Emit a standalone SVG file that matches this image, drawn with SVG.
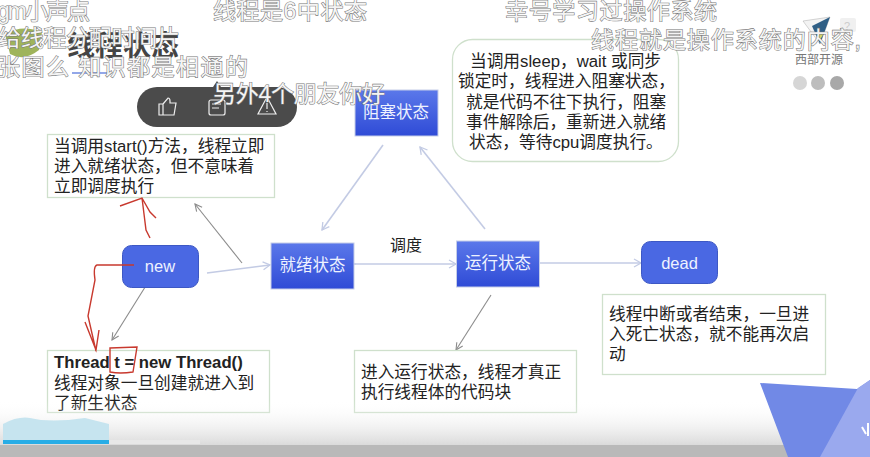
<svg xmlns="http://www.w3.org/2000/svg" width="870" height="457" viewBox="0 0 870 457">
<style>
text{font-family:"Liberation Sans","Noto Sans CJK SC",sans-serif}
.note{fill:#fff;stroke:#cfe0cc;stroke-width:1.3}
.nt{font-size:16.7px;fill:#222}
.st{fill:url(#g);stroke:#c5cde8;stroke-width:1}
.rd{fill:#4a68e3;stroke:#3d58c4;stroke-width:1}
.nl{font-size:16.5px;fill:#eef2ff;text-anchor:middle}
.bl{fill:none;stroke:#c3cbe4;stroke-width:1.6}
.gr{fill:none;stroke:#8b8b8b;stroke-width:1.1}
.red{fill:none;stroke:#c8392e;stroke-width:1.4}
.dm{font-size:23px;fill:#f4f4f4;stroke:#777;stroke-width:1.1;paint-order:stroke}
</style>
<defs>
<linearGradient id="g" x1="0" y1="0" x2="0" y2="1"><stop offset="0" stop-color="#5b78ea"/><stop offset="1" stop-color="#2f4bd6"/></linearGradient>
<linearGradient id="b" x1="0" y1="0" x2="0" y2="1"><stop offset="0" stop-color="#fff" stop-opacity="0"/><stop offset="1" stop-color="#c4c4c4"/></linearGradient>
<marker id="ab" markerWidth="10" markerHeight="10" refX="8" refY="5" orient="auto" markerUnits="userSpaceOnUse"><path d="M1 1L8 5L1 9" fill="none" stroke="#c3cbe4" stroke-width="1.3"/></marker>
<marker id="ag" markerWidth="10" markerHeight="10" refX="8" refY="5" orient="auto" markerUnits="userSpaceOnUse"><path d="M1 1.500L8 5L1 8.500" fill="none" stroke="#8b8b8b" stroke-width="1.1"/></marker>
</defs>
<rect width="870" height="457" fill="#fff"/>
<path id="deco" d="M5 34Q22 24 42 32L39 50Q24 62 10 54Z" fill="#9fb45b"/>
<g id="title"><text x="67" y="56" font-size="28" font-weight="bold" fill="#444">线程状态</text><path d="M72 73H111" stroke="#6f8ae0" stroke-width="1.500"/></g>

<g id="connectors">
<path class="bl" d="M207 273L270 265" marker-end="url(#ab)"/>
<path class="bl" d="M355 264H456" marker-end="url(#ab)" marker-start="url(#ab)"/>
<path class="bl" d="M540 263H641" marker-end="url(#ab)"/>
<path class="bl" d="M383 145L322 230" marker-end="url(#ab)"/>
<path class="bl" d="M485 229L420 147" marker-end="url(#ab)"/>
<path class="gr" d="M242 263L195 204" marker-end="url(#ag)"/>
<path class="gr" d="M147 284L112 340" marker-end="url(#ag)"/>
<path class="gr" d="M491 295L456 350" marker-end="url(#ag)"/>
</g>

<g id="node-new"><rect class="rd" x="122.500" y="245.500" width="76" height="42" rx="9"/><text class="nl" x="160" y="272">new</text></g>
<g id="node-ready"><rect class="st" x="271" y="243" width="83" height="46"/><text class="nl" x="312.500" y="271">就绪状态</text></g>
<g id="node-running"><rect class="st" x="456.500" y="241" width="83" height="46"/><text class="nl" x="498" y="269">运行状态</text></g>
<g id="node-blocked"><rect class="st" x="355" y="90" width="83" height="46"/><text class="nl" x="396" y="118">阻塞状态</text></g>
<g id="node-dead"><rect class="rd" x="641.500" y="241.500" width="76" height="42" rx="9"/><text class="nl" x="679.500" y="269">dead</text></g>

<g id="note-start"><rect class="note" x="47.500" y="134.500" width="227" height="63"/>
<text class="nt" x="54" y="152">当调用start()方法，线程立即</text><text class="nt" x="54" y="172">进入就绪状态，但不意味着</text><text class="nt" x="54" y="192">立即调度执行</text></g>
<g id="note-blocked"><rect class="note" x="452.500" y="39.500" width="226" height="122" rx="20"/>
<text class="nt" x="470" y="67">当调用sleep，wait 或同步</text><text class="nt" x="458" y="87">锁定时，线程进入阻塞状态，</text><text class="nt" x="466" y="108">就是代码不往下执行，阻塞</text><text class="nt" x="466" y="128">事件解除后，重新进入就绪</text><text class="nt" x="469" y="148">状态，等待cpu调度执行。</text></g>
<g id="note-new"><rect class="note" x="47.500" y="350.500" width="222" height="62"/>
<text class="nt" x="54" y="368" font-weight="bold">Thread t = new Thread()</text><text class="nt" x="54" y="389">线程对象一旦创建就进入到</text><text class="nt" x="54" y="409">了新生状态</text></g>
<g id="note-run"><rect class="note" x="354.500" y="350.500" width="222" height="62"/>
<text class="nt" x="361" y="378">进入运行状态，线程才真正</text><text class="nt" x="361" y="398">执行线程体的代码块</text></g>
<g id="note-dead"><rect class="note" x="602.500" y="294.500" width="223" height="80"/>
<text class="nt" x="609" y="320">线程中断或者结束，一旦进</text><text class="nt" x="609" y="340">入死亡状态，就不能再次启</text><text class="nt" x="609" y="360">动</text></g>
<text x="390" y="251" font-size="16" fill="#222">调度</text>

<g id="ink">
<path class="red" d="M120 206L142 198L150 212L156 218M142 198L144 214L146 230L150 238"/>
<path class="red" d="M134 265H97Q93 266 95 280L88 316L96 351M85 322L96 350L99 330"/>
<path class="red" d="M110 348L137 347L133 372Q120 374 110 372Z"/>
</g>

<g id="footer">
<rect y="400" width="870" height="57" fill="url(#b)"/>
<rect y="445" width="870" height="12" fill="#b9b9b9"/>
<path d="M3 440V424Q18 416 30 418Q50 423 85 418L109 424V440Z" fill="#c6e4ef"/>
<rect x="3" y="440" width="197" height="4" fill="#e8e8e8"/>
<rect x="3" y="440" width="106" height="4" fill="#28ade6"/>
<path d="M760 383L857 389L870 380V457H788Z" fill="#7189e6"/>
<path d="M820 457L858 388L870 380V457Z" fill="#9aa9ee"/>
<path d="M862 427L866 434M868 423V436" stroke="#fff" stroke-width="2"/>
</g>

<g id="toolbar"><rect x="137" y="87" width="160" height="40" rx="20" fill="#4b4b4b"/>
<path d="M217 81L213 87H221Z" fill="#4b4b4b"/>
<g fill="none" stroke="#eee" stroke-width="1.200">
<path d="M159 104H163V115H159ZM163 104L168 98Q170 98 170 101V103H176L174 115H163"/>
<rect x="209" y="100" width="16" height="15" rx="2"/><path d="M212 104H221M212 108H219"/>
<path d="M267 97L276 114H258Z"/><path d="M267 103V109M267 111V112"/></g></g>

<g id="logo">
<path d="M803 21L830 17L820 44Z" fill="#f3f3f3" stroke="#aaa" stroke-width=".5"/>
<path d="M830 17L812 26L820 44Z" fill="#2f5f86"/><path d="M818 33H824L820 40Z" fill="#d9d46a"/>
<rect x="840" y="18" width="16" height="14" rx="2" fill="#f0f0f0"/><text x="844" y="30" font-size="11" fill="#ccc">?</text>
<text x="795" y="64" font-size="12" fill="#777">西部开源</text>
<circle cx="800" cy="83" r="7" fill="#d6d6d6"/><circle cx="818" cy="83" r="7" fill="#bdbdbd"/><circle cx="837" cy="83" r="7" fill="#a8a8a8"/>
</g>

<g id="overlay">
<text class="dm" x="-3" y="19" textLength="93">gm小声点</text>
<text class="dm" x="213" y="19" textLength="154">线程是6中状态</text>
<text class="dm" x="505" y="19" textLength="212">幸号学习过操作系统</text>
<text class="dm" x="591" y="48" textLength="270">线程就是操作系统的内容,</text>
<text class="dm" x="-2" y="46" textLength="182">给线程分配时间片</text>
<text class="dm" x="-3" y="75" textLength="251">张图么  知识都是相通的</text>
<text class="dm" x="213" y="102" textLength="172">另外4个朋友你好</text>
</g>
</svg>
